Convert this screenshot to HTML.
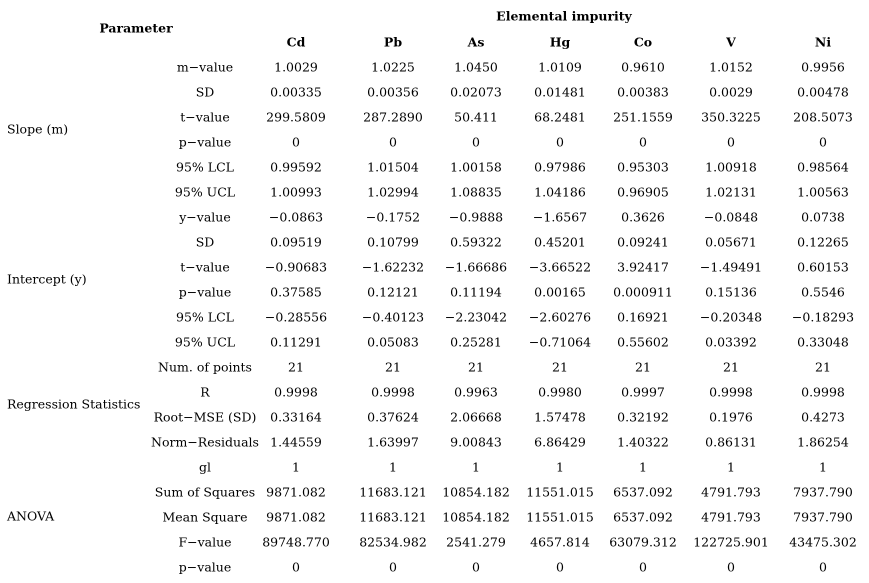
<!DOCTYPE html>
<html><head><meta charset="utf-8"><style>
body{margin:0;width:869px;height:583px;background:#fff;position:relative;font-family:"DejaVu Serif",serif;font-size:12.5px;color:#000;overflow:hidden}
.c{position:absolute;transform:translate(-50%,-50%);white-space:nowrap}
.l{position:absolute;transform:translateY(-50%);white-space:nowrap}
.b{font-weight:bold}
</style></head><body>
<div class="c b" style="left:136px;top:28px">Parameter</div>
<div class="c b" style="left:564px;top:16px">Elemental impurity</div>
<div class="l" style="left:7px;top:129px">Slope (m)</div>
<div class="l" style="left:7px;top:279px">Intercept (y)</div>
<div class="l" style="left:7px;top:404px">Regression Statistics</div>
<div class="l" style="left:7px;top:516px">ANOVA</div>
<script>
const elements=["Cd","Pb","As","Hg","Co","V","Ni"];
const params=["m−value","SD","t−value","p−value","95% LCL","95% UCL","y−value","SD","t−value","p−value","95% LCL","95% UCL","Num. of points","R","Root−MSE (SD)","Norm−Residuals","gl","Sum of Squares","Mean Square","F−value","p−value"];
const rows=[
["1.0029","1.0225","1.0450","1.0109","0.9610","1.0152","0.9956"],
["0.00335","0.00356","0.02073","0.01481","0.00383","0.0029","0.00478"],
["299.5809","287.2890","50.411","68.2481","251.1559","350.3225","208.5073"],
["0","0","0","0","0","0","0"],
["0.99592","1.01504","1.00158","0.97986","0.95303","1.00918","0.98564"],
["1.00993","1.02994","1.08835","1.04186","0.96905","1.02131","1.00563"],
["−0.0863","−0.1752","−0.9888","−1.6567","0.3626","−0.0848","0.0738"],
["0.09519","0.10799","0.59322","0.45201","0.09241","0.05671","0.12265"],
["−0.90683","−1.62232","−1.66686","−3.66522","3.92417","−1.49491","0.60153"],
["0.37585","0.12121","0.11194","0.00165","0.000911","0.15136","0.5546"],
["−0.28556","−0.40123","−2.23042","−2.60276","0.16921","−0.20348","−0.18293"],
["0.11291","0.05083","0.25281","−0.71064","0.55602","0.03392","0.33048"],
["21","21","21","21","21","21","21"],
["0.9998","0.9998","0.9963","0.9980","0.9997","0.9998","0.9998"],
["0.33164","0.37624","2.06668","1.57478","0.32192","0.1976","0.4273"],
["1.44559","1.63997","9.00843","6.86429","1.40322","0.86131","1.86254"],
["1","1","1","1","1","1","1"],
["9871.082","11683.121","10854.182","11551.015","6537.092","4791.793","7937.790"],
["9871.082","11683.121","10854.182","11551.015","6537.092","4791.793","7937.790"],
["89748.770","82534.982","2541.279","4657.814","63079.312","122725.901","43475.302"],
["0","0","0","0","0","0","0"]];
const colX=[296,393,476,560,643,731,823];
function mk(cls,x,y,t){const d=document.createElement('div');d.className=cls;d.style.left=x+'px';d.style.top=y+'px';d.textContent=t;document.body.appendChild(d);return d;}
elements.forEach((e,i)=>{const d=mk('c b',colX[i],42,e);

});
params.forEach((p,r)=>{const y=67+r*25;const d=mk('c',205,y,p);


rows[r].forEach((v,i)=>{const c=mk('c',colX[i],y,v);

});});
</script>
</body></html>
